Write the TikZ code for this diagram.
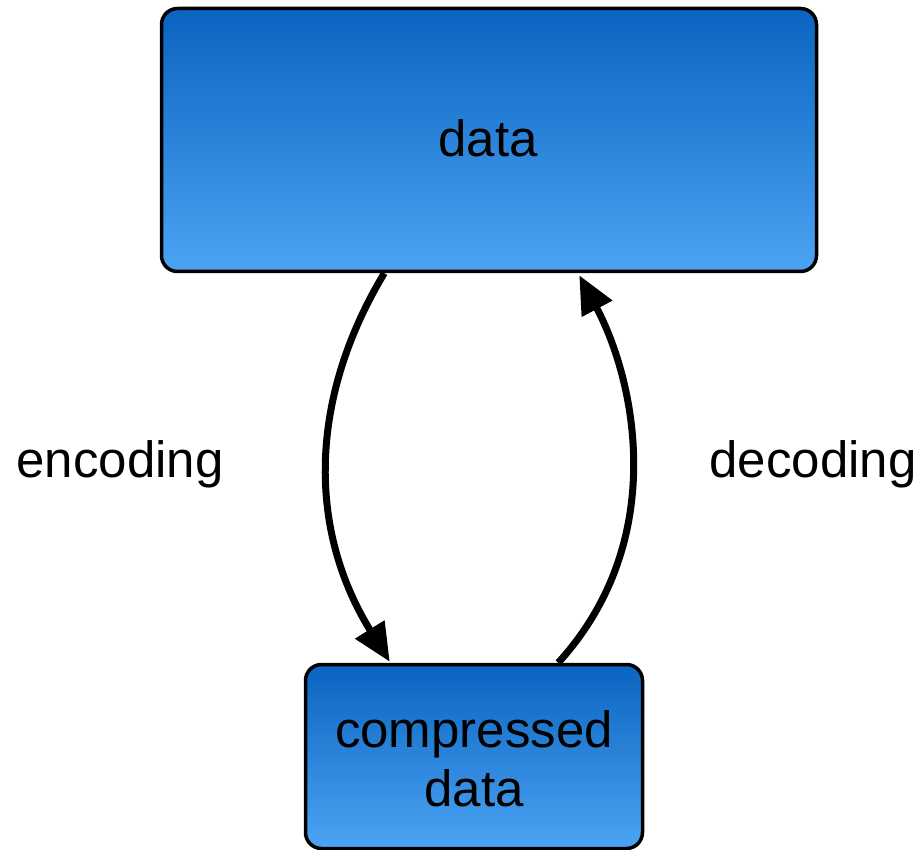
\documentclass[tikz,border=0pt]{standalone}
\usepackage{fontspec}
\setmainfont{Liberation Sans}
\usetikzlibrary{arrows.meta,calc}
\definecolor{boxtop}{RGB}{10,100,192}
\definecolor{boxbot}{RGB}{75,164,243}
\tikzset{
  box/.style={draw=black, line width=3.5pt, rounded corners=16pt, top color=boxtop, bottom color=boxbot, inner sep=0pt},
  lbl/.style={font=\fontsize{51}{58}\selectfont, anchor=base, inner sep=0pt},
  arr/.style={line width=7pt, -{Triangle[length=38pt,width=33pt]}}
}
\begin{document}
\begin{tikzpicture}[x=1pt,y=-1pt]
\useasboundingbox (0,0) rectangle (922,850);
\node[box, minimum width=655pt, minimum height=263pt] (data) at (489,140) {};
\node[box, minimum width=337pt, minimum height=184pt] (cbox) at (474,756.5) {};
\node[lbl] (tdata) at (488,157) {data};
\node[lbl] (cd1) at (474,747) {compressed};
\node[lbl] (cd2) at (474,806) {data};
\node[lbl] (enc) at (120,478) {encoding};
\node[lbl] (dec) at (813,478) {decoding};
\coordinate (e1) at ($(data.south west)+(224.5,0)$);
\coordinate (e2) at ($(cbox.north west)+(86,-1)$);
\coordinate (d1) at ($(cbox.north west)+(254.5,0)$);
\coordinate (d2) at ($(data.south west)+(419.5,2)$);
\draw[arr] (e1) .. controls (308,400) and (308,530) .. (e2);
\draw[arr] (d1) .. controls (670,540) and (635,380) .. (d2);
\end{tikzpicture}
\end{document}
